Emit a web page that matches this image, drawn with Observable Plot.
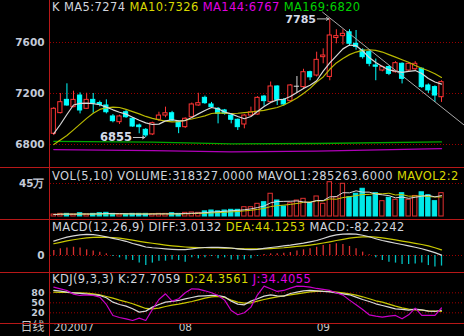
<!DOCTYPE html>
<html><head><meta charset="utf-8">
<script src="https://cdn.jsdelivr.net/npm/d3@7"></script>
<script src="https://cdn.jsdelivr.net/npm/@observablehq/plot@0.6"></script>
<style>
html,body{margin:0;padding:0;background:#000;}
#wrap{position:relative;width:464px;height:336px;background:#000;overflow:hidden;font-family:"DejaVu Sans",sans-serif;}
.lg{position:absolute;left:52px;font-size:11.5px;letter-spacing:0.4px;white-space:pre;line-height:11px;}
.sep{position:absolute;background:#b81818;}
.panel{position:absolute;left:0;}
</style></head><body><div id="wrap"></div>
<script>
// ---------- data ----------
const opens  = [6884,7046,7150,7093,7184,7080,7150,7125,7106,7020, 6975,7053,7002,6949,6915,6879,6994,7027,7045,6975, 6936,7014,7106,7166,7114,7080,7067,7027,6994,6957, 7027,7035,7176,7132,7255,7150,7140,7255,7250,7367, 7341,7485,7330,7635,7650,7680,7590,7537,7524,7420, 7380,7407,7367,7433,7380,7390,7394,7263,7250,7171];
const highs  = [7090,7200,7276,7218,7205,7202,7200,7140,7150,7035, 7030,7066,7010,6960,6925,6975,7053,7093,7060,6985, 7010,7125,7202,7180,7130,7090,7075,7035,7000,7035, 7093,7175,7185,7290,7260,7160,7270,7333,7390,7375, 7524,7550,7785,7700,7700,7700,7694,7550,7540,7470, 7415,7415,7450,7440,7440,7450,7400,7275,7260,7300];
const lows   = [6870,7040,7100,7088,7040,7075,7045,7095,7040,6970, 6957,7005,6935,6884,6855,6870,6980,7010,6980,6885, 6925,7005,7100,7115,7085,6962,7030,6962,6910,6923, 7020,7030,7100,7125,7106,7100,7130,7200,7240,7300, 7330,7433,7300,7590,7580,7570,7540,7470,7410,7300, 7370,7340,7360,7275,7370,7380,7240,7200,7130,7130];
const closes = [7080,7132,7106,7150,7067,7150,7122,7110,7053,6983, 7020,7014,6941,6936,6871,6967,7027,7045,6988,6936, 7002,7114,7124,7124,7093,7041,7041,6994,6936,7027, 7053,7166,7140,7255,7150,7114,7263,7257,7367,7327, 7464,7498,7655,7650,7668,7590,7565,7485,7433,7410, 7407,7354,7438,7315,7433,7433,7250,7224,7184,7289];
const volumes = [27000,36000,36000,27000,45000,27000,36000,45000,50000,36000, 27000,27000,36000,36000,36000,32000,36000,36000,45000,36000, 50000,55000,50000,70000,82000,70000,82000,91000,91000,127000, 127000,173000,195000,310000,218000,136000,181000,218000,241000,181000, 273000,173000,468000,263000,446000,263000,310000,378000,263000,318000, 209000,255000,228000,318000,228000,280000,330000,290000,209000,318327];
const ma5  = [6886,6957,7035,7110,7122,7124,7120,7112,7093,7072, 7053,7038,7014,6990,6970,6957,6960,6985,6994,6985, 6988,7012,7040,7067,7090,7080,7055,7040,7020,7002, 7020,7059,7098,7130,7150,7155,7176,7208,7240,7265, 7300,7375,7440,7495,7550,7580,7575,7535,7482,7443, 7412,7385,7375,7365,7373,7380,7357,7318,7290,7274];
const ma10 = [6800,6835,6870,6915,6960,7005,7045,7075,7088,7093, 7090,7075,7058,7040,7020,7005,6993,6983,6978,6980, 6990,7000,7012,7025,7043,7048,7045,7043,7045,7050, 7055,7062,7068,7080,7090,7110,7135,7165,7200,7240, 7290,7330,7390,7440,7475,7505,7525,7538,7543,7538, 7525,7505,7485,7465,7445,7420,7398,7378,7355,7326];
const ma144Idx = [0,15,27,40,59];
const ma144Val = [6760,6752,6742,6748,6767];
const ma169Idx = [0,15,27,40,59];
const ma169Val = [6825,6818,6805,6808,6820];
const trendIdx = [40.9,62.5];
const trendVal = [7838,6950];
const diffVals = [111,128,142,152,160,163,162,155,145,133, 122,110,93,80,66,60,56,52,48,45, 46,52,58,62,64,63,61,58,52,47, 45,48,55,62,68,74,80,88,96,106, 116,132,148,160,166,168,165,157,145,130, 116,105,95,85,74,64,52,38,22,3];
const deaVals = [91,102,113,122,130,137,141,142,141,138, 134,127,119,110,102,95,88,81,75,70, 66,63,61,60,59,58,57,56,54,52, 51,51,52,54,57,60,65,70,75,81, 88,97,106,116,125,134,141,145,146,142, 136,129,121,112,103,94,85,74,60,44];
const macdVals = [39,52,59,64,59,44,34,26,13,-8, -18,-34,-39,-59,-78,-59,-44,-44,-34,-39, -52,-18,-26,-18,-8,-26,-18,-34,-34,-34, -26,-8,8,13,13,18,23,34,44,52, 64,78,85,91,85,70,52,26,5,-18, -39,-52,-59,-70,-70,-65,-59,-78,-90,-82];
const kVals = [87,85,82,80,78,76,74,72,65,52, 45,40,32,22,25,37,45,52,54,57, 62,66,70,71,72,72,68,55,46,44, 55,62,70,74,71,70,78,82,86,87, 86,84,83,80,77,74,67,60,54,47, 42,37,32,30,28,31,29,25,24,27.7];
const dVals = [82,81,81,80,80,79,77,74,69,64, 58,53,47,40,33,32,34,39,43,46, 50,54,59,64,68,69,66,58,52,49, 50,55,60,64,68,71,74,77,80,83, 84,84,84,82,80,77,73,68,62,56, 52,46,40,35,31,29,28,26,25,24.4];
const jVals = [97,92,87,76,72,74,72,67,45,12, 6,2,-3,4,-3,30,60,77,55,62, 80,92,91,86,80,72,58,27,14,20, 37,74,100,92,84,87,94,100,99,97, 93,90,87,80,73,58,44,30,14,10, 7,10,12,2,14,34,12,12,12,34.4];
const monthIdx = [0,19,40];
const monthLabels = ["202007","08","09"];
const priceTicks = [6800,7200,7600];
const volTicks = [450000];
const volTickLabels = ["45万"];
const macdTicks = [0];
const kdjTicks = [20,50,80];
const peakIdx = 42, lowIdx = 14;

// ---------- helpers ----------
const rows = (vals, idx) => vals.map((v, k) => ({i: idx ? idx[k] : k, v}));
const candles = closes.map((c, i) => ({i, o: opens[i], h: highs[i], l: lows[i], c, v: volumes[i]}));
const kind = d => Math.abs(d.c - d.o) < 4 ? "flat" : d.c > d.o ? "up" : "down";
const UP = "#ff3434", DN = "#00ffff", FLAT = "#d8d8d8";
const candleStroke = d => kind(d) === "up" ? UP : kind(d) === "down" ? DN : FLAT;
const bodies = candles.filter(d => kind(d) !== "flat");
const dojis = candles.filter(d => kind(d) === "flat");
const W = 464;
const LBL = "#c4cad8";
const baseStyle = {background: "transparent", color: LBL, fontFamily: "DejaVu Sans, sans-serif", overflow: "visible"};
const grid = "#9a0000";
function mk(opts) {
  return Plot.plot(Object.assign({
    width: W, marginLeft: 50, marginRight: 0, marginTop: 0, marginBottom: 0,
    x: {domain: [-0.5, 62.5], axis: null},
    style: baseStyle
  }, opts));
}
const leftLabels = (ticks, fmt, fs) => Plot.text(ticks, {y: d => d, text: fmt, frameAnchor: "left", dx: -6, textAnchor: "end", fill: LBL, fontSize: fs || 10.5, fontWeight: "bold"});
const dotted = ticks => Plot.ruleY(ticks, {stroke: grid, strokeDasharray: "1,2", strokeWidth: 1});

const wrap = document.getElementById("wrap");
function place(el, top) { const d = document.createElement("div"); d.className = "panel"; d.style.top = top + "px"; d.appendChild(el); wrap.appendChild(d); }

// ---------- main price panel ----------
const peak = [candles[peakIdx]], low = [candles[lowIdx]];
place(mk({
  height: 167,
  y: {domain: [6619.6, 7929.4], axis: null},
  marks: [
    dotted(priceTicks),
    leftLabels(priceTicks, d => String(d)),
    Plot.line(rows(ma144Val, ma144Idx), {x: "i", y: "v", stroke: "#b000b8", strokeWidth: 1.3}),
    Plot.line(rows(ma169Val, ma169Idx), {x: "i", y: "v", stroke: "#00a800", strokeWidth: 1.3}),
    Plot.ruleX(candles, {x: "i", y1: "l", y2: "h", stroke: candleStroke, strokeWidth: 1}),
    Plot.rect(bodies, {x1: d => d.i - 0.32, x2: d => d.i + 0.32, y1: "o", y2: "c", stroke: candleStroke, fill: d => kind(d) === "down" ? DN : "#000", strokeWidth: 1}),
    Plot.ruleY(dojis, {y: "c", x1: d => d.i - 0.4, x2: d => d.i + 0.4, stroke: FLAT, strokeWidth: 1}),
    Plot.line(rows(ma10), {x: "i", y: "v", stroke: "#b8b800", strokeWidth: 1.2}),
    Plot.line(rows(ma5), {x: "i", y: "v", stroke: "#d8d8d8", strokeWidth: 1.2}),
    Plot.line(rows(trendVal, trendIdx), {x: "i", y: "v", stroke: "#a8a8a8", strokeWidth: 1}),
    Plot.arrow(peak, {x1: d => d.i - 1.9, x2: d => d.i - 0.15, y1: "h", y2: "h", stroke: "#c8c8c8", headLength: 4, strokeWidth: 1}),
    Plot.text(peak, {x: d => d.i - 2.1, y: "h", dy: 1, text: d => String(d.h), textAnchor: "end", fill: "#d4dae8", fontSize: 11, fontWeight: "bold"}),
    Plot.arrow(low, {x1: d => d.i - 1.9, x2: d => d.i - 0.15, y1: "l", y2: "l", stroke: "#c8c8c8", headLength: 4, strokeWidth: 1}),
    Plot.text(low, {x: d => d.i - 2.1, y: "l", text: d => String(d.l), textAnchor: "end", fill: "#d4dae8", fontSize: 11.5, fontWeight: "bold"})
  ]
}), 0);

// ---------- volume panel ----------
place(mk({
  height: 52,
  y: {domain: [-40909, 668182], axis: null},
  marks: [
    dotted(volTicks),
    leftLabels(volTicks, (d, k) => volTickLabels[k]),
    Plot.rect(candles, {x1: d => d.i - 0.33, x2: d => d.i + 0.33, y1: 0, y2: "v", stroke: d => kind(d) === "down" ? "#00e8e8" : "#e03030", fill: d => kind(d) === "down" ? "#00e8e8" : "#000", strokeWidth: 1}),
    Plot.lineY(candles, Plot.windowY({k: 10, anchor: "end", reduce: "mean"}, {x: "i", y: "v", stroke: "#c8c800", strokeWidth: 1})),
    Plot.lineY(candles, Plot.windowY({k: 5, anchor: "end", reduce: "mean"}, {x: "i", y: "v", stroke: "#d8d8d8", strokeWidth: 1}))
  ]
}), 167);

// ---------- MACD panel ----------
place(mk({
  height: 53,
  y: {domain: [-131.8, 279], axis: null},
  marks: [
    dotted(macdTicks),
    leftLabels(macdTicks, d => String(d)),
    Plot.ruleX(rows(macdVals), {x: "i", y1: 0, y2: "v", stroke: d => d.v >= 0 ? "#d83030" : "#00c0c0", strokeWidth: 1.3}),
    Plot.line(rows(deaVals), {x: "i", y: "v", stroke: "#c8c800", strokeWidth: 1.2}),
    Plot.line(rows(diffVals), {x: "i", y: "v", stroke: "#d8d8d8", strokeWidth: 1.2})
  ]
}), 219);

// ---------- KDJ panel + month axis ----------
place(mk({
  height: 64, marginBottom: 13,
  y: {domain: [-12.1, 140.9], axis: null},
  marks: [
    dotted(kdjTicks),
    leftLabels(kdjTicks, d => String(d), 9.5),
    Plot.line(rows(dVals), {x: "i", y: "v", stroke: "#c8c800", strokeWidth: 1.2}),
    Plot.line(rows(kVals), {x: "i", y: "v", stroke: "#d8d8d8", strokeWidth: 1.2}),
    Plot.line(rows(jVals), {x: "i", y: "v", stroke: "#c800c8", strokeWidth: 1.2}),
    Plot.text(monthIdx, {x: d => d, text: (d, k) => monthLabels[k], frameAnchor: "bottom", dy: 7, textAnchor: "start", fill: "#c8c8c8", fontSize: 10.5}),
    Plot.text(["日线"], {text: d => d, frameAnchor: "bottom-left", dx: -6, dy: 7, textAnchor: "end", fill: "#c8c8c8", fontSize: 12, fontFamily: "Noto Sans CJK SC, sans-serif"})
  ]
}), 272);

// ---------- separators ----------
function sep(l, t, w, h) { const d = document.createElement("div"); d.className = "sep"; Object.assign(d.style, {left: l + "px", top: t + "px", width: w + "px", height: h + "px"}); wrap.appendChild(d); }
[167, 219, 272, 323].forEach(t => sep(0, t, W, 1));
sep(49, 0, 1, 336);

// ---------- legends (one flowing line per panel) ----------
function legend(cy, parts) {
  const line = document.createElement("div"); line.className = "lg";
  line.style.top = (cy - 5.5) + "px";
  parts.forEach(([txt, col], k) => {
    const s = document.createElement("span");
    s.textContent = (k ? " " : "") + txt; s.style.color = col;
    line.appendChild(s);
  });
  wrap.appendChild(line);
}
const WH = "#d0d4dc", YL = "#d8d800", MG = "#e000e0", GR = "#00d000";
legend(7, [["K", WH], ["MA5:7274", WH], ["MA10:7326", YL], ["MA144:6767", MG], ["MA169:6820", GR]]);
legend(176, [["VOL(5,10)", WH], ["VOLUME:318327.0000", WH], ["MAVOL1:285263.6000", WH], ["MAVOL2:2", YL]]);
legend(227, [["MACD(12,26,9)", WH], ["DIFF:3.0132", WH], ["DEA:44.1253", YL], ["MACD:-82.2242", WH]]);
legend(279, [["KDJ(9,3,3)", WH], ["K:27.7059", WH], ["D:24.3561", YL], ["J:34.4055", MG]]);
</script></body></html>
